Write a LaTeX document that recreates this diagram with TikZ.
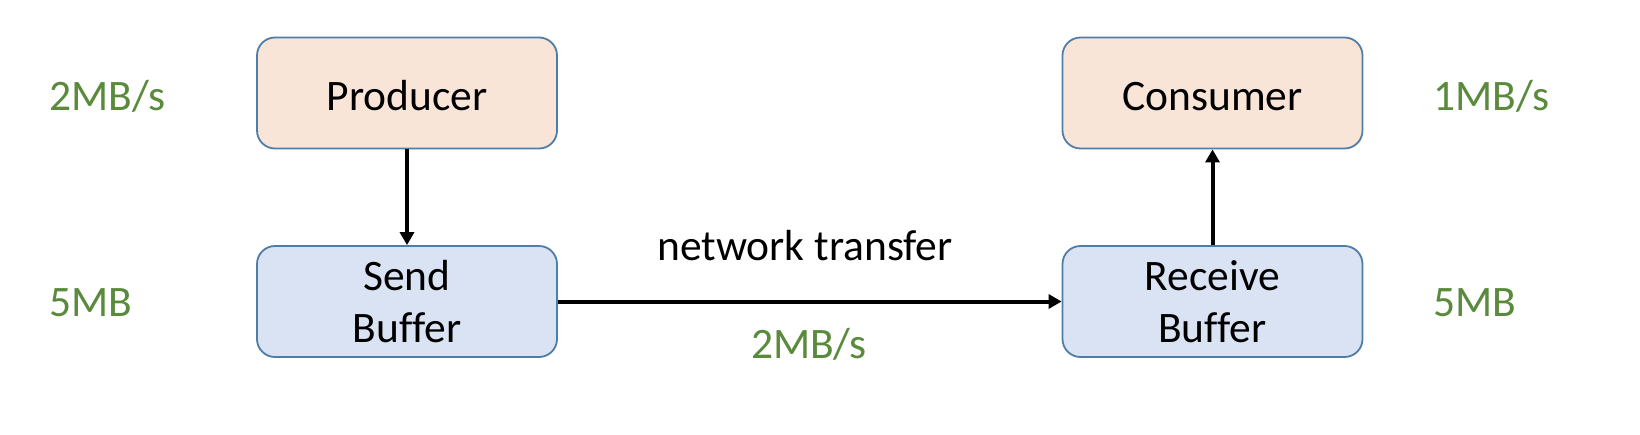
\documentclass[tikz,border=0pt]{standalone}
\usepackage{fontspec}
\setmainfont[Ligatures=NoCommon]{Carlito}
\usetikzlibrary{arrows.meta}
\definecolor{boxline}{HTML}{4F7DA8}
\definecolor{peach}{HTML}{F9E5D8}
\definecolor{lightblue}{HTML}{DAE3F3}
\definecolor{ratecol}{HTML}{5A8A3C}
\tikzset{
  basebox/.style={draw=boxline, line width=1.8pt, rounded corners=18pt,
    minimum width=300pt, minimum height=111pt, inner sep=0pt, align=center,
    font=\fontsize{43.5}{52}\selectfont},
  orangebox/.style={basebox, fill=peach, text height=34pt, text depth=0pt},
  bluebox/.style={basebox, fill=lightblue},
  rate/.style={text=ratecol, inner sep=0pt, font=\fontsize{43.5}{52}\selectfont},
  plain/.style={text=black, inner sep=0pt, font=\fontsize{43.5}{52}\selectfont},
  conn/.style={line width=4pt, -{Triangle[length=13pt,width=14pt]}}
}
\begin{document}
\begin{tikzpicture}[x=1pt,y=-1pt]
\useasboundingbox[fill=white] (0,0) rectangle (1640,434);
\node[orangebox] (prod) at (407,93) {Producer};
\node[bluebox] (send) at (407,301.5) {Send\\Buffer};
\node[orangebox] (cons) at (1212.5,93) {Consumer};
\node[bluebox] (recv) at (1212.5,301.5) {Receive\\Buffer};
\draw[conn] (prod) -- (send);
\draw[conn] (recv) -- (cons);
\draw[conn] (send.east) -- (recv.west);
\node[plain, anchor=base] (nt) at (805,260) {network transfer};
\node[rate, anchor=base] (midrate) at (809,358) {2MB/s};
\node[rate, anchor=base west] (prate) at (49,110) {2MB/s};
\node[rate, anchor=base west] (sbuf) at (49,316) {5MB};
\node[rate, anchor=base west] (crate) at (1433,110) {1MB/s};
\node[rate, anchor=base west] (rbuf) at (1433,316) {5MB};
\end{tikzpicture}
\end{document}
